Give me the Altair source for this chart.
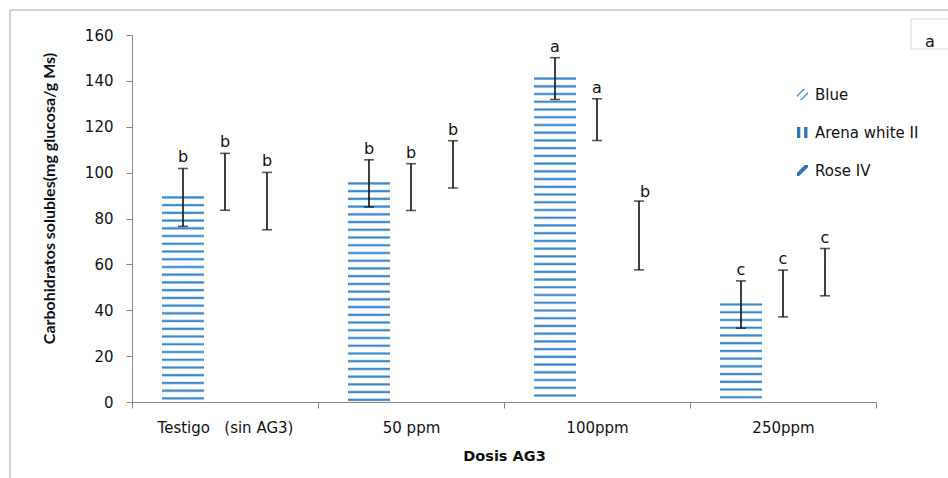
import altair as alt
import pandas as pd

# Treatments (x categories) and cultivars (series)
dosis = ["Testigo\u00a0\u00a0\u00a0(sin AG3)", "50 ppm", "100ppm", "250ppm"]
series = ["Blue", "Arena white II", "Rose IV"]

# Soluble carbohydrates (mg glucosa / g Ms) and error bar half-widths
blue = [89.2, 95.3, 141.0, 42.5]
blue_err = [12.6, 10.3, 9.1, 10.3]
arena = [96.0, 93.7, 123.1, 47.3]
arena_err = [12.4, 10.2, 9.1, 10.2]
rose = [87.6, 103.6, 72.6, 56.6]
rose_err = [12.5, 10.3, 15.0, 10.3]

# Significance letters
letters_blue = ["b", "b", "a", "c"]
letters_arena = ["b", "b", "a", "c"]
letters_rose = ["b", "b", "b", "c"]

rows = []
for s, means, errs, lets in [
    ("Blue", blue, blue_err, letters_blue),
    ("Arena white II", arena, arena_err, letters_arena),
    ("Rose IV", rose, rose_err, letters_rose),
]:
    for d, m, e, l in zip(dosis, means, errs, lets):
        rows.append({"dosis": d, "serie": s, "media": m, "lo": m - e, "hi": m + e, "letra": l})
df = pd.DataFrame(rows)

FONT = "DejaVu Sans"
TFONT = "Lato"
GREY = "#868686"
INK = "#111"
YTITLE = "Carbohidratos solubles(mg glucosa/g Ms)"

x_enc = alt.X(
    "dosis:N",
    sort=dosis,
    scale=alt.Scale(paddingInner=0, paddingOuter=0),
    axis=alt.Axis(
        title="Dosis AG3",
        labelAngle=0,
        tickBand="extent",
        domainColor=GREY,
        tickColor=GREY,
        tickSize=6,
        labelPadding=19,
        labelBaseline="middle",
        labelFont=FONT,
        labelFontSize=15,
        labelColor=INK,
        titleFont=FONT,
        titleFontSize=14.5,
        titleFontWeight="bold",
        titleColor=INK,
        titleY=54,
        titleBaseline="middle",
    ),
)
xo_enc = alt.XOffset(
    "serie:N", sort=series, scale=alt.Scale(paddingInner=0, paddingOuter=0.714)
)
y_axis = alt.Axis(
    title=YTITLE,
    values=[0, 20, 40, 60, 80, 100, 120, 140, 160],
    grid=False,
    domainColor=GREY,
    tickColor=GREY,
    tickSize=6,
    labelPadding=13,
    labelFont=FONT,
    labelFontSize=15,
    labelColor=INK,
    titleFont=TFONT,
    titleFontSize=16,
    titleFontWeight="bold",
    titleColor=INK,
    titleX=-83,
    titleY=163,
    titleBaseline="middle",
)
y_scale = alt.Scale(domain=[0, 160], nice=False)


def Y(field):
    return alt.Y(field, type="quantitative", scale=y_scale, axis=y_axis)


def Y2(field):
    return alt.Y2(field)


base = alt.Chart(df).encode(x=x_enc, xOffset=xo_enc)

# Horizontal-line hatch filling the Blue bars, derived from each bar's value
stripes = (
    base.transform_filter(alt.datum.serie == "Blue")
    .transform_calculate(k="sequence(0, datum.media, 3.37)")
    .transform_flatten(["k"])
    .transform_calculate(c="datum.media - datum.k")
    .transform_calculate(
        l0="max(0, datum.c - 0.65)",
        l1="datum.c + 0.65",
        d0="max(0, datum.c - 0.36)",
        d1="datum.c + 0.36",
    )
)
stripe_light = stripes.mark_bar(color="#A9CCEC", strokeWidth=0).encode(
    y=Y("l0"), y2=Y2("l1")
)
stripe_dark = stripes.mark_bar(color="#3A87CC", strokeWidth=0).encode(
    y=Y("d0"), y2=Y2("d1")
)

# Error bars with caps
err_rule = base.mark_rule(color=INK, strokeWidth=1.6).encode(y=Y("lo"), y2=Y2("hi"))
cap_hi = base.mark_tick(color=INK, thickness=1.6, size=10).encode(y=Y("hi"))
cap_lo = base.mark_tick(color=INK, thickness=1.6, size=10).encode(y=Y("lo"))
mean_dot = base.mark_square(color="#333", size=3, opacity=0.7).encode(y=Y("media"))

# Letters above the error bars; the Rose IV 100ppm label sits beside its cap
lone = (alt.datum.serie == "Rose IV") & (alt.datum.dosis == "100ppm")
letters = (
    base.transform_filter(~lone)
    .mark_text(font=FONT, fontSize=16, baseline="bottom", dy=-3, color=INK)
    .encode(y=Y("hi"), text="letra:N")
)
letter_side = (
    base.transform_filter(lone)
    .mark_text(font=FONT, fontSize=16, baseline="bottom", dx=6, dy=-1, color=INK)
    .encode(y=Y("hi"), text="letra:N")
)

# Legend carried by an invisible point layer
shape_paths = [
    "M-1,0.1L0.1,-1L0.5,-1L-1,0.5Z M-0.5,1L1,-0.5L1,-0.1L-0.1,1Z",
    "M-1,-1H-0.4V1H-1Z M0.3,-1H0.9V1H0.3Z",
    "M-1,1L-1,0.4L0.4,-1L1,-1L1,-0.6L-0.6,1Z",
]
leg = alt.Legend(
    title=None,
    orient="none",
    legendX=663,
    legendY=52,
    labelFont=FONT,
    labelFontSize=15,
    labelColor=INK,
    labelOffset=5,
    rowPadding=22,
    symbolSize=121,
    symbolOpacity=1,
    symbolStrokeWidth=0,
)
legend_layer = base.mark_point(filled=True, opacity=0, size=1).encode(
    y=Y("media"),
    color=alt.Color(
        "serie:N",
        sort=series,
        scale=alt.Scale(domain=series, range=["#5B9BD5", "#2E75B6", "#2E75B6"]),
        legend=leg,
    ),
    shape=alt.Shape(
        "serie:N",
        sort=series,
        scale=alt.Scale(domain=series, range=shape_paths),
        legend=leg,
    ),
)

# Chart-area frame and the panel tag box
frame = alt.Chart(pd.DataFrame({"t": [0]})).mark_rect(
    fill="transparent", stroke="#A6A6A6", strokeWidth=1
).encode(x=alt.value(-122), x2=alt.value(900), y=alt.value(-25), y2=alt.value(480))
tag_box = alt.Chart(pd.DataFrame({"t": ["a"]})).mark_rect(
    fill="white", stroke="#D9D9D9", strokeWidth=1
).encode(x=alt.value(779), x2=alt.value(840), y=alt.value(-16), y2=alt.value(14))
tag_text = alt.Chart(pd.DataFrame({"t": ["a"]})).mark_text(
    font=FONT, fontSize=16, baseline="alphabetic", align="center", color=INK
).encode(x=alt.value(798), y=alt.value(11.5), text="t:N")

chart = (
    alt.layer(
        frame,
        stripe_light,
        stripe_dark,
        err_rule,
        cap_hi,
        cap_lo,
        mean_dot,
        letters,
        letter_side,
        legend_layer,
        tag_box,
        tag_text,
    )
    .properties(
        width=744,
        height=367,
        autosize=alt.AutoSizeParams(type="none"),
        padding={"left": 132, "top": 35, "right": 72, "bottom": 76},
        background="white",
    )
    .configure_view(stroke=None)
)

chart.save("out.html", embed_options={"renderer": "svg", "actions": False})
